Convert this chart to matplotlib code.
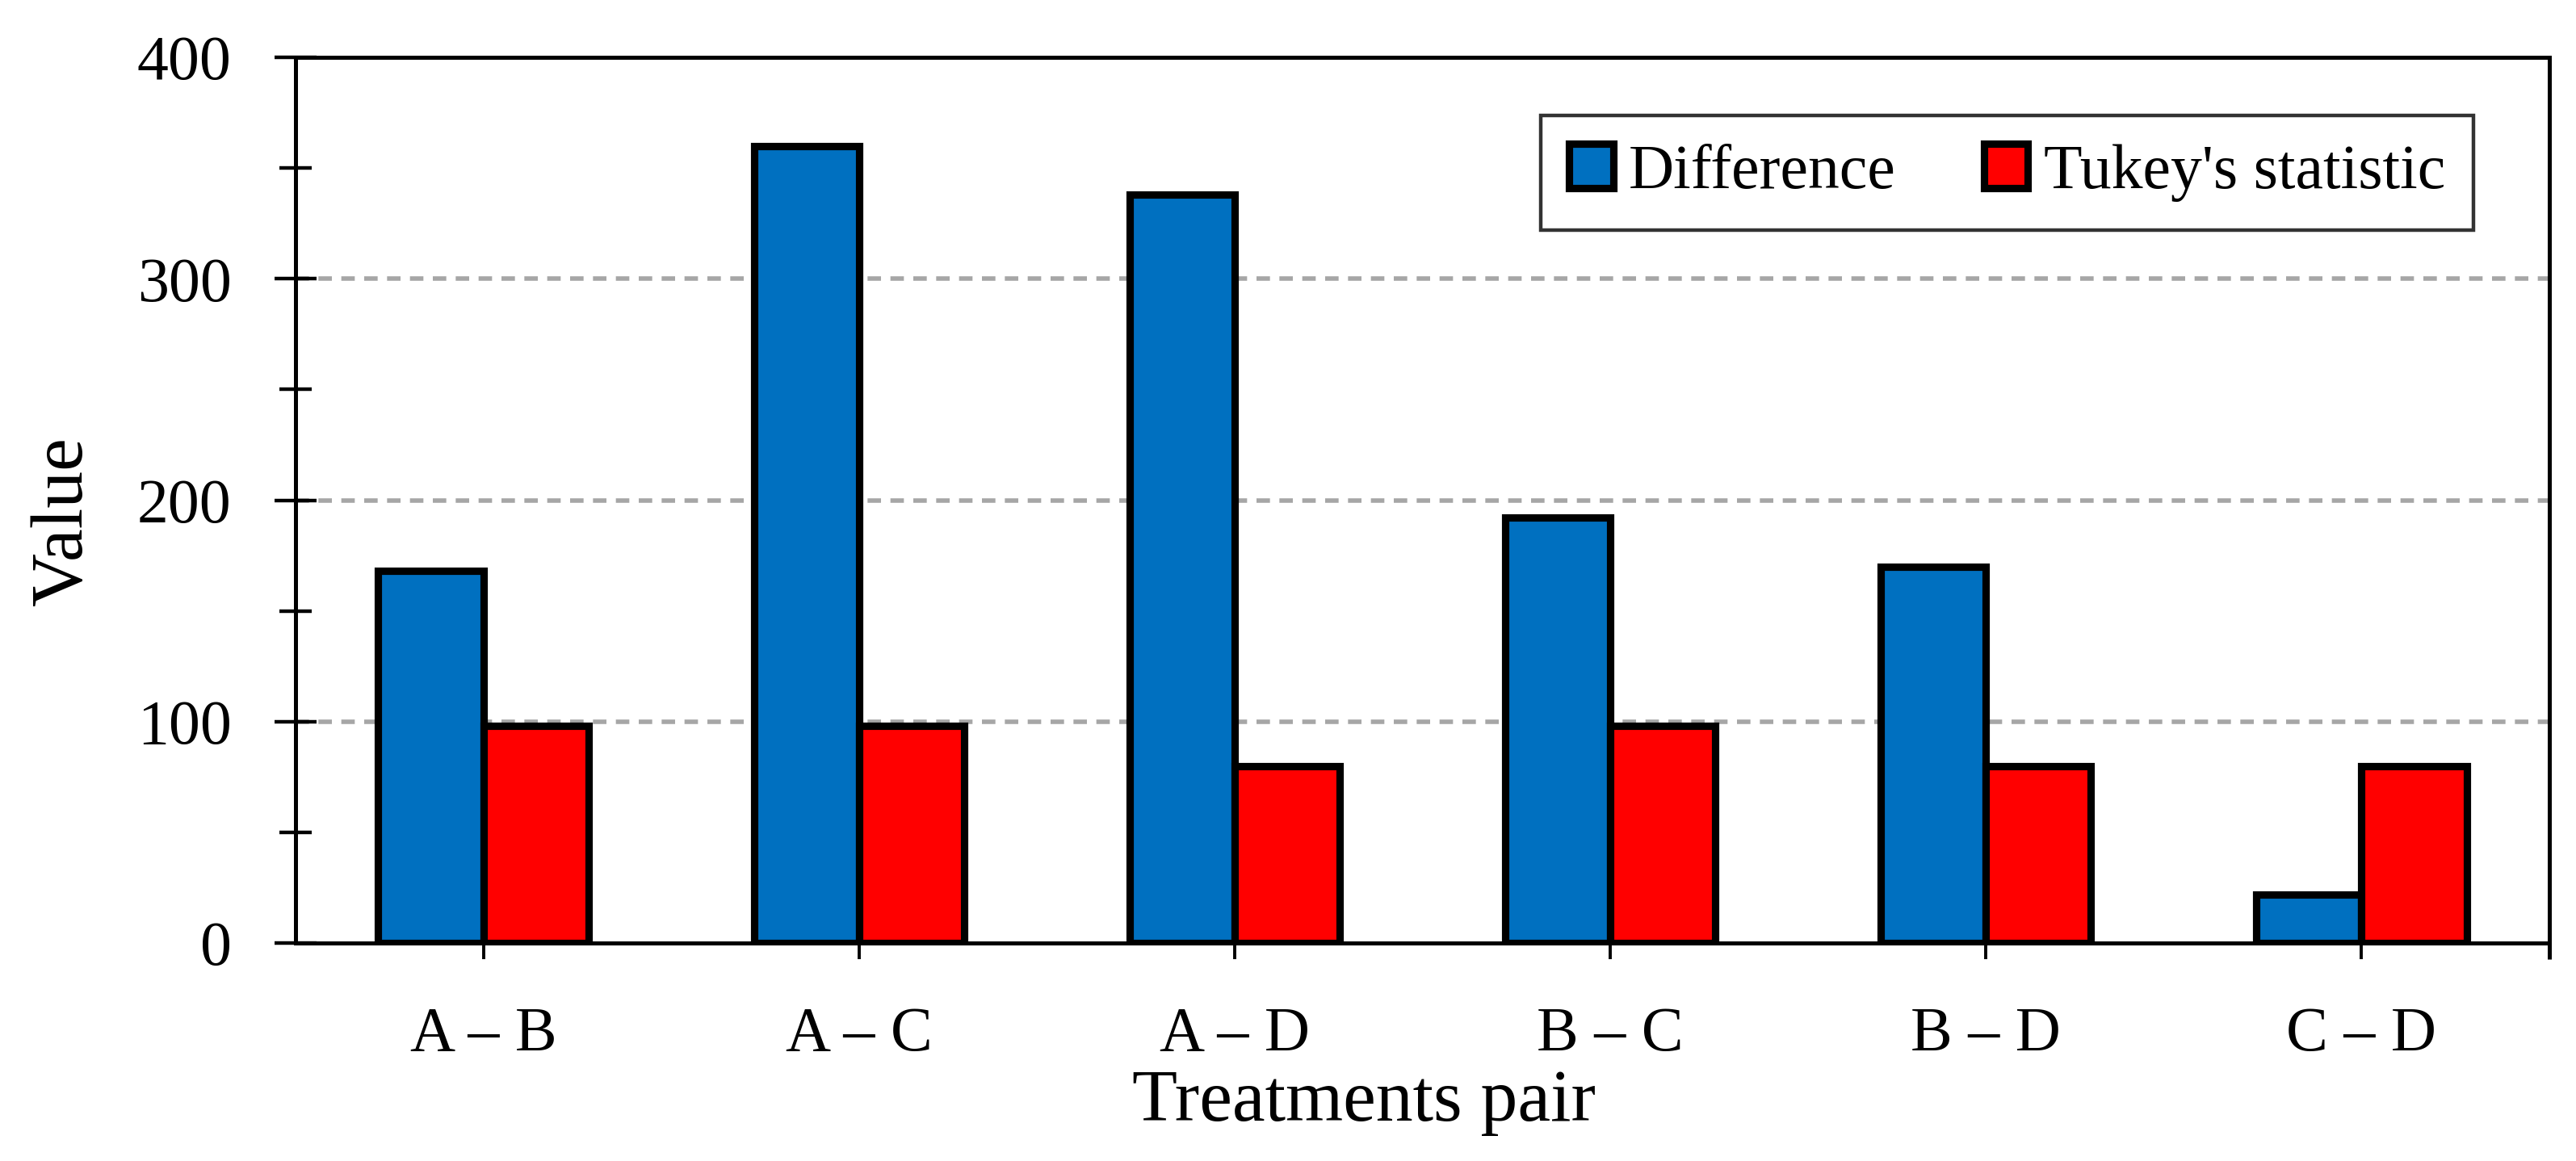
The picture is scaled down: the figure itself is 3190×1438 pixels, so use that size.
import numpy as np
import matplotlib.pyplot as plt
from matplotlib.ticker import MultipleLocator, FixedLocator

plt.rcParams['font.family'] = ['Liberation Serif', 'DejaVu Serif']

pairs = ['A – B', 'A – C', 'A – D', 'B – C', 'B – D', 'C – D']
difference = [168, 360, 338, 192, 170, 22]
tukey = [98, 98, 80, 98, 80, 80]

blue = '#0070C0'
red = '#FF0000'

fig = plt.figure(figsize=(15.95, 7.19), dpi=200)
ax = fig.add_axes([366/3190, 1-1168/1438, (3157-366)/3190, (1168-71)/1438])

x = np.arange(len(pairs))
w = 0.28
ax.bar(x - w/2, difference, w, color=blue, edgecolor='black', linewidth=3.3,
       label='Difference', zorder=3)
ax.bar(x + w/2, tukey, w, color=red, edgecolor='black', linewidth=3.3,
       label="Tukey's statistic", zorder=3)

ax.set_xlim(-0.5, len(pairs) - 0.5)
ax.set_ylim(0, 400)
ax.set_xticks(x)
ax.set_xticklabels(pairs, fontsize=28)
# small tick under the right edge of the plot area
ax.xaxis.set_minor_locator(FixedLocator([len(pairs) - 0.5]))
ax.yaxis.set_major_locator(MultipleLocator(100))
ax.yaxis.set_minor_locator(MultipleLocator(50))

ax.tick_params(axis='y', which='major', direction='inout', length=19, width=1.6,
               labelsize=28, pad=19)
ax.tick_params(axis='y', which='minor', direction='inout', length=14.5, width=1.6)
ax.tick_params(axis='x', which='major', direction='out', length=7.2, width=1.4,
               labelsize=28, pad=21)
ax.tick_params(axis='x', which='minor', direction='out', length=7.2, width=1.8)

for s in ax.spines.values():
    s.set_linewidth(1.8)

for v in [100, 200, 300]:
    ax.axhline(v, color='#A6A6A6', linewidth=2.0, dashes=(3.0, 2.1), zorder=1)

ax.set_ylabel('Value', fontsize=33)
ax.set_xlabel('Treatments pair', fontsize=33)
ax.xaxis.set_label_coords(0.474, -0.143)
ax.yaxis.set_label_coords(-0.088, 0.476)

leg = ax.legend(loc='upper right', bbox_to_anchor=(3063/3190, 1-143/1438),
                bbox_transform=fig.transFigure, ncol=2, fontsize=28,
                frameon=True, fancybox=False, handlelength=0.7, handleheight=0.7,
                handletextpad=0.25, columnspacing=1.4, borderpad=0.45,
                borderaxespad=0)
leg.get_frame().set_edgecolor('black')
leg.get_frame().set_linewidth(1.6)

fig.savefig('out.png', dpi=200)
